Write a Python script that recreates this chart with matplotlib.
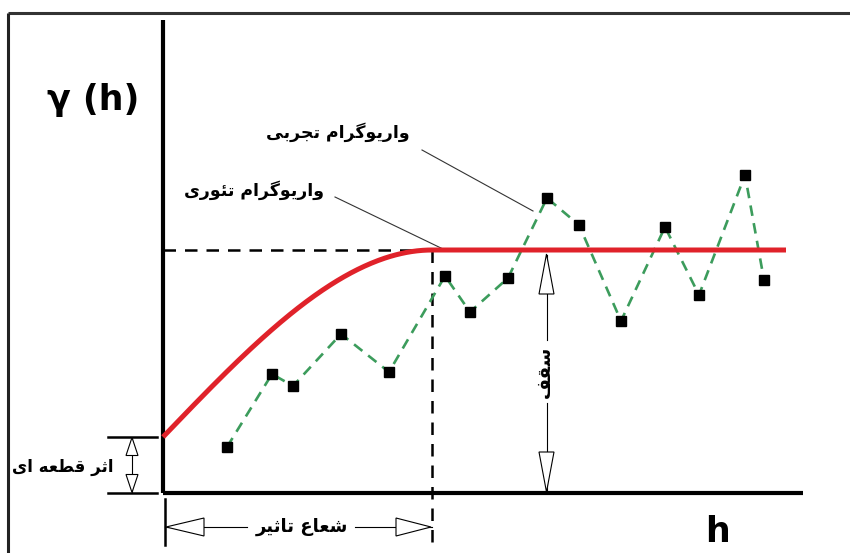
import numpy as np
import matplotlib
matplotlib.use("Agg")
import matplotlib.pyplot as plt
from matplotlib.patches import Polygon

# ---------------- data (h, gamma) ----------------
lag_h = [6.4, 10.9, 13.0, 17.8, 22.6, 28.2, 30.7, 34.5, 38.4, 41.6, 45.8, 50.2, 53.6, 58.2, 60.1]
gamma_exp = [4.6, 11.9, 10.7, 15.9, 12.1, 21.7, 18.1, 21.5, 29.5, 26.8, 17.2, 26.6, 19.8, 31.8, 21.3]
nugget = 5.6
sill = 24.3
range_a = 26.9
h_max = 62.3

label_exp = "واریوگرام تجربی"
label_theo = "واریوگرام تئوری"
label_nugget = "اثر قطعه ای"
label_range = "شعاع تاثیر"
label_sill = "سقف"
label_y = "γ (h)"
label_x = "h"

# ---------------- simple Persian shaping (presentation forms) ----------------
FORMS = {  # isolated, final, initial, medial
    'ا': ('\uFE8D', '\uFE8E', None, None),
    'ب': ('\uFE8F', '\uFE90', '\uFE91', '\uFE92'),
    'ت': ('\uFE95', '\uFE96', '\uFE97', '\uFE98'),
    'ث': ('\uFE99', '\uFE9A', '\uFE9B', '\uFE9C'),
    'ج': ('\uFE9D', '\uFE9E', '\uFE9F', '\uFEA0'),
    'ر': ('\uFEAD', '\uFEAE', None, None),
    'س': ('\uFEB1', '\uFEB2', '\uFEB3', '\uFEB4'),
    'ش': ('\uFEB5', '\uFEB6', '\uFEB7', '\uFEB8'),
    'ط': ('\uFEC1', '\uFEC2', '\uFEC3', '\uFEC4'),
    'ع': ('\uFEC9', '\uFECA', '\uFECB', '\uFECC'),
    'ف': ('\uFED1', '\uFED2', '\uFED3', '\uFED4'),
    'ق': ('\uFED5', '\uFED6', '\uFED7', '\uFED8'),
    'م': ('\uFEE1', '\uFEE2', '\uFEE3', '\uFEE4'),
    'ه': ('\uFEE9', '\uFEEA', '\uFEEB', '\uFEEC'),
    'و': ('\uFEED', '\uFEEE', None, None),
    'ئ': ('\uFE89', '\uFE8A', '\uFE8B', '\uFE8C'),
    'ی': ('\uFBFC', '\uFBFD', '\uFBFE', '\uFBFF'),
    'گ': ('\uFB92', '\uFB93', '\uFB94', '\uFB95'),
}


def shape(s):
    out = []
    n = len(s)
    for i, c in enumerate(s):
        if c not in FORMS:
            out.append(c)
            continue
        f = FORMS[c]
        prev = s[i - 1] if i > 0 else None
        nxt = s[i + 1] if i < n - 1 else None
        jp = prev in FORMS and FORMS[prev][2] is not None
        jn = nxt in FORMS and f[2] is not None
        if jp and jn:
            out.append(f[3])
        elif jp:
            out.append(f[1])
        elif jn:
            out.append(f[2])
        else:
            out.append(f[0])
    return ''.join(reversed(out))


# ---------------- figure ----------------
fig = plt.figure(figsize=(8.5, 5.53), dpi=100)
ax = fig.add_axes([0, 0, 1, 1])
ax.set_xlim(-16.3, 68.7)
ax.set_ylim(-6.0, 49.3)
ax.axis('off')

FA = dict(family=['DejaVu Sans'], fontweight='bold', color='black')

# frame (top and left edges)
ax.plot([-15.5, 68.7], [48.0, 48.0], color='#333333', lw=2.2, solid_capstyle='butt')
ax.plot([-15.5, -15.5], [48.0, -6.0], color='#222222', lw=2.2, solid_capstyle='butt')

# axes lines
ax.plot([0, 0], [0, 47.3], color='black', lw=3.0, solid_capstyle='butt')
ax.plot([0, 64.0], [0, 0], color='black', lw=3.0, solid_capstyle='butt')

# guides
ax.plot([0, range_a], [sill, sill], color='black', lw=1.8, ls=(0, (5, 3.6)))
ax.plot([range_a, range_a], [sill, -5.2], color='black', lw=1.8, ls=(0, (5, 3.6)))

# experimental variogram
ax.plot(lag_h, gamma_exp, color='#3c9c5c', lw=1.9, ls=(0, (4, 2.8)), zorder=3)

# theoretical (spherical) model
hh = np.linspace(0, range_a, 200)
gm = nugget + (sill - nugget) * (1.5 * hh / range_a - 0.5 * (hh / range_a) ** 3)
hh = np.append(hh, h_max)
gm = np.append(gm, sill)
ax.plot(hh, gm, color='#e0222a', lw=3.6, zorder=4, solid_capstyle='butt')

ax.plot(lag_h, gamma_exp, ls='none', marker='s', ms=7.8, color='black', zorder=5)


def head(tip, direction, length, half):
    tx, ty = tip
    dx, dy = direction
    bx, by = tx - dx * length, ty - dy * length
    px, py = -dy, dx
    pts = [(tx, ty), (bx + px * half, by + py * half), (bx - px * half, by - py * half)]
    ax.add_patch(Polygon(pts, closed=True, facecolor='white', edgecolor='black', lw=0.8, zorder=6))


# nugget bracket
ax.plot([-5.5, -0.6], [nugget, nugget], color='black', lw=1.8)
ax.plot([-5.5, -0.6], [0, 0], color='black', lw=1.8)
ax.plot([-3.1, -3.1], [nugget - 0.1, 0.1], color='black', lw=0.8)
head((-3.1, nugget - 0.05), (0, 1), 1.8, 0.6)
head((-3.1, 0.05), (0, -1), 1.8, 0.6)
ax.text(-10.0, 2.6, shape(label_nugget), fontsize=12, ha='center', va='center', **FA)

# range arrow
ry = -3.4
ax.plot([0.2, 0.2], [-0.6, -5.2], color='black', lw=1.8)
ax.plot([0.2, 8.4], [ry, ry], color='black', lw=0.8)
ax.plot([19.2, range_a], [ry, ry], color='black', lw=0.8)
head((0.3, ry), (-1, 0), 3.8, 0.9)
head((range_a - 0.1, ry), (1, 0), 3.5, 0.9)
ax.text(13.9, ry, shape(label_range), fontsize=13, ha='center', va='center', **FA)

# sill arrow
sx = 38.35
ax.plot([sx, sx], [sill - 0.5, 15.3], color='black', lw=0.8)
ax.plot([sx, sx], [9.0, 0.1], color='black', lw=0.8)
head((sx, sill - 0.4), (0, 1), 4.0, 0.75)
head((sx, 0.1), (0, -1), 4.0, 0.75)
ax.text(sx - 0.2, 12.1, shape(label_sill), fontsize=13, rotation=90, ha='center', va='center', **FA)

# leader lines and labels
ax.plot([25.9, 37.0], [34.3, 28.2], color='#333333', lw=0.8)
ax.plot([17.2, 28.0], [29.6, 24.4], color='#333333', lw=0.8)
ax.text(17.5, 36.1, shape(label_exp), fontsize=12.5, ha='center', va='center', **FA)
ax.text(9.1, 30.3, shape(label_theo), fontsize=12.5, ha='center', va='center', **FA)

# axis titles
ax.text(-7.0, 39.3, label_y, fontsize=25, ha='center', va='center',
        family=['Liberation Sans Narrow', 'DejaVu Sans'], fontweight='bold')
ax.text(55.5, -3.9, label_x, fontsize=25, ha='center', va='center',
        family=['DejaVu Sans'], fontweight='bold')

fig.savefig('out.png', dpi=100)
